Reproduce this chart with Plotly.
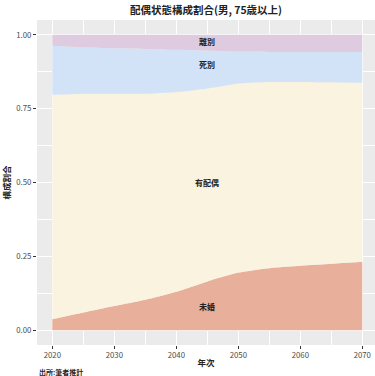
import plotly.graph_objects as go

# Marital status composition, men aged 75+ (projection)
years = [2020, 2025, 2030, 2035, 2040, 2045, 2050, 2055, 2060, 2065, 2070]
never_married = [0.037, 0.060, 0.082, 0.103, 0.130, 0.165, 0.195, 0.210, 0.218, 0.225, 0.232]
married = [0.760, 0.740, 0.718, 0.697, 0.676, 0.653, 0.640, 0.630, 0.622, 0.614, 0.606]
widowed = [0.166, 0.158, 0.154, 0.152, 0.143, 0.128, 0.108, 0.102, 0.102, 0.103, 0.104]
divorced = [0.037, 0.042, 0.046, 0.048, 0.051, 0.054, 0.057, 0.058, 0.058, 0.058, 0.058]

series_names = ["未婚", "有配偶", "死別", "離別"]
series_values = [never_married, married, widowed, divorced]
series_colors = ["#E8B09B", "#FAF3E0", "#D3E3F7", "#DFCBDF"]

# label anchor points inside each band
label_x = [2045, 2045, 2045, 2045]
label_y = [0.079, 0.50, 0.898, 0.978]

x_ticks = [2020, 2030, 2040, 2050, 2060, 2070]
y_ticks = [0.00, 0.25, 0.50, 0.75, 1.00]
y_tick_text = ["0.00", "0.25", "0.50", "0.75", "1.00"]

FONT = "Noto Sans CJK JP"

fig = go.Figure()
for name, vals, col in zip(series_names, series_values, series_colors):
    fig.add_trace(go.Scatter(
        x=years, y=vals, name=name, mode="lines",
        stackgroup="one", line=dict(width=0, shape="spline", smoothing=0.6, color=col),
        fillcolor=col, showlegend=False, hoverinfo="skip",
    ))

for name, lx, ly in zip(series_names, label_x, label_y):
    fig.add_annotation(x=lx, y=ly, text=f"<b>{name}</b>", showarrow=False,
                       font=dict(family=FONT, size=8, color="#222222"))

fig.add_annotation(xref="paper", yref="paper", x=0, y=-0.0836, xanchor="left",
                   yanchor="middle", text="<b>出所:筆者推計</b>", showarrow=False,
                   font=dict(family=FONT, size=7, color="#222222"))

fig.update_layout(
    width=375, height=376,
    margin=dict(l=37, r=0, t=20, b=30.5),
    paper_bgcolor="white", plot_bgcolor="#EBEBEB",
    font=dict(family=FONT, color="#4D4D4D"),
    title=dict(text="<b>配偶状態構成割合(男, 75歳以上)</b>", x=0.5, xref="paper",
               xanchor="center", y=1 - 10.5 / 376, yanchor="middle",
               font=dict(family=FONT, size=10.5, color="#222222")),
)

fig.update_xaxes(
    range=[2017.53, 2072.05], tickvals=x_ticks, ticks="outside", ticklen=3,
    tickcolor="#333333", tickfont=dict(size=7.8, color="#4D4D4D"),
    showgrid=True, gridcolor="white", gridwidth=1, zeroline=False,
    minor=dict(dtick=5, tick0=2020, showgrid=True, gridcolor="white", gridwidth=0.5, ticks=""),
    title=dict(text="<b>年次</b>", standoff=0, font=dict(family=FONT, size=8.5, color="#222222")),
)
fig.update_yaxes(
    range=[-0.05, 1.05], tickvals=y_ticks, ticktext=y_tick_text, ticks="outside",
    ticklen=3, tickcolor="#333333", tickfont=dict(size=7.8, color="#4D4D4D"),
    showgrid=True, gridcolor="white", gridwidth=1, zeroline=False,
    minor=dict(dtick=0.125, tick0=0, showgrid=True, gridcolor="white", gridwidth=0.5, ticks=""),
    title=dict(text="<b>構成割合</b>", standoff=4, font=dict(family=FONT, size=8.5, color="#222222")),
)

fig.write_html("out.html")
